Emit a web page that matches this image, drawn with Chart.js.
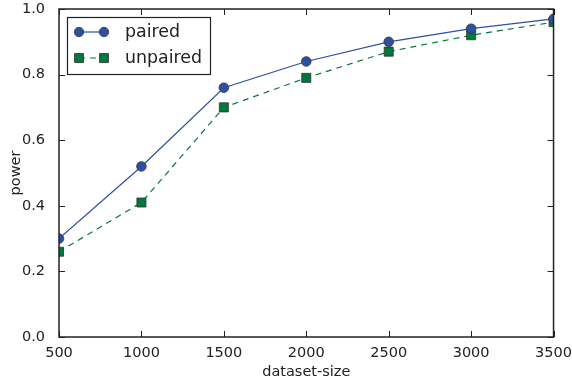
<!DOCTYPE html>
<html>
<head>
<meta charset="utf-8">
<script src="https://cdn.jsdelivr.net/npm/chart.js@4"></script>
<style>
  html, body { margin: 0; padding: 0; background: #fff; }
  #wrap { width: 572px; height: 385px; }
</style>
</head>
<body>
<div id="wrap"><canvas id="powerChart" width="572" height="385"></canvas></div>
<script>
const sizes = [500, 1000, 1500, 2000, 2500, 3000, 3500];
const pairedPower = [0.30, 0.52, 0.76, 0.84, 0.90, 0.94, 0.97];
const unpairedPower = [0.26, 0.41, 0.70, 0.79, 0.87, 0.92, 0.96];
const xTicks = [500, 1000, 1500, 2000, 2500, 3000, 3500];
const yTicks = [0.0, 0.2, 0.4, 0.6, 0.8, 1.0];

const blue = '#2c50a2';
const green = '#00773c';
const FONT = 'DejaVu Sans';
const FS = 14.5;

function points(ys) 
{
    return sizes.map((s, i) => ({ x: s, y: ys[i] }));
}

// matplotlib-ish frame, inward ticks on all four sides and the legend box
const framePlugin = {
    id: 'frame',
    afterDatasetsDraw(chart) 
    {
        const ctx = chart.ctx;
        const a = chart.chartArea;
        const xs = chart.scales.x;
        const ys = chart.scales.y;
        ctx.save();
        ctx.strokeStyle = '#222';
        ctx.lineWidth = 1;
        xTicks.forEach(v => {
            const px = Math.round(xs.getPixelForValue(v)) + 0.5;
            ctx.beginPath();
            ctx.moveTo(px, a.bottom); ctx.lineTo(px, a.bottom - 6);
            ctx.moveTo(px, a.top); ctx.lineTo(px, a.top + 6);
            ctx.stroke();
        });
        yTicks.forEach(v => {
            const py = Math.round(ys.getPixelForValue(v)) + 0.5;
            ctx.beginPath();
            ctx.moveTo(a.left, py); ctx.lineTo(a.left + 6, py);
            ctx.moveTo(a.right, py); ctx.lineTo(a.right - 6, py);
            ctx.stroke();
        });
        ctx.lineWidth = 1.5;
        ctx.strokeRect(a.left, a.top, a.right - a.left, a.bottom - a.top);

        // legend
        const lx = a.left + 8, ly = a.top + 8, lw = 143, lh = 57;
        ctx.fillStyle = '#fff';
        ctx.fillRect(lx, ly, lw, lh);
        ctx.lineWidth = 1.2;
        ctx.strokeStyle = '#222';
        ctx.strokeRect(lx + 0.5, ly + 0.5, lw, lh);
        const rows = [
            { label: 'paired', color: blue, dash: [], shape: 'circle', y: ly + 15 },
            { label: 'unpaired', color: green, dash: [6, 5], shape: 'rect', y: ly + 41 }
        ];
        rows.forEach(r => {
            ctx.strokeStyle = r.color;
            ctx.lineWidth = 1.2;
            ctx.setLineDash(r.dash);
            ctx.beginPath();
            ctx.moveTo(lx + 12, r.y); ctx.lineTo(lx + 37, r.y);
            ctx.stroke();
            ctx.setLineDash([]);
            [lx + 12, lx + 37].forEach(mx => {
                ctx.fillStyle = r.color;
                ctx.strokeStyle = '#333';
                ctx.lineWidth = 0.8;
                ctx.beginPath();
                if (r.shape === 'circle') ctx.arc(mx, r.y, 4.7, 0, Math.PI * 2);
                else ctx.rect(mx - 4.5, r.y - 4.5, 9, 9);
                ctx.fill(); ctx.stroke();
            });
            ctx.fillStyle = '#222';
            ctx.font = '17.4px "' + FONT + '"';
            ctx.textBaseline = 'middle';
            ctx.textAlign = 'left';
            ctx.fillText(r.label, lx + 58, r.y);
        });
        ctx.restore();
    }
};

const ctx = document.getElementById('powerChart').getContext('2d');
new Chart(ctx, {
    type: 'line',
    data: {
        datasets: [
            {
                label: 'paired',
                data: points(pairedPower),
                borderColor: blue,
                backgroundColor: blue,
                borderWidth: 1.2,
                pointStyle: 'circle',
                pointRadius: 4.8,
                pointBorderColor: '#333',
                pointBorderWidth: 0.8,
                pointBackgroundColor: blue,
                tension: 0,
                clip: 0
            },
            {
                label: 'unpaired',
                data: points(unpairedPower),
                borderColor: green,
                backgroundColor: green,
                borderWidth: 1.2,
                borderDash: [6, 5],
                pointStyle: 'rect',
                pointRadius: 6.4,
                pointBorderColor: '#333',
                pointBorderWidth: 0.8,
                pointBackgroundColor: green,
                tension: 0,
                clip: 0
            }
        ]
    },
    options: {
        responsive: false,
        animation: false,
        layout: { padding: { left: 8, right: 18, top: 9, bottom: 0 } },
        plugins: {
            legend: { display: false },
            tooltip: { enabled: false }
        },
        scales: {
            x: {
                type: 'linear',
                min: 500,
                max: 3500,
                afterBuildTicks: s => { s.ticks = xTicks.map(v => ({ value: v })); },
                afterFit: s => { s.height = 48; },
                grid: { display: false },
                border: { display: false },
                ticks: {
                    color: '#222',
                    font: { family: FONT, size: FS },
                    padding: 0,
                    maxRotation: 0,
                    callback: v => String(v)
                },
                title: {
                    display: true,
                    text: 'dataset-size',
                    color: '#222',
                    font: { family: FONT, size: FS },
                    padding: { top: 0, bottom: 4 }
                }
            },
            y: {
                min: 0,
                max: 1,
                afterBuildTicks: s => { s.ticks = yTicks.map(v => ({ value: v })); },
                afterFit: s => { s.width = 51; s.paddingTop = 0; s.paddingBottom = 0; },
                grid: { display: false },
                border: { display: false },
                ticks: {
                    color: '#222',
                    font: { family: FONT, size: FS },
                    padding: 6,
                    callback: v => Number(v).toFixed(1)
                },
                title: {
                    display: true,
                    text: 'power',
                    color: '#222',
                    font: { family: FONT, size: FS },
                    padding: { top: 0, bottom: 0 }
                }
            }
        }
    },
    plugins: [framePlugin]
});
</script>
</body>
</html>
